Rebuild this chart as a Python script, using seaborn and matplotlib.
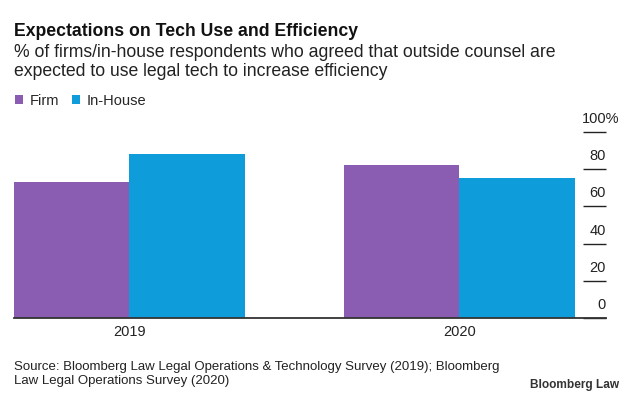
import pandas as pd
import seaborn as sns
from matplotlib import pyplot as plt
from matplotlib.transforms import offset_copy

years = ["2019", "2020"]
firm = [73, 82]
in_house = [88, 75]
groups = ["Firm", "In-House"]
y_ticks = [0, 20, 40, 60, 80, 100]
y_tick_labels = ["0", "20", "40", "60", "80", "100%"]

title = "Expectations on Tech Use and Efficiency"
subtitle = ("% of firms/in-house respondents who agreed that outside counsel are\n"
            "expected to use legal tech to increase efficiency")
source = ("Source: Bloomberg Law Legal Operations & Technology Survey (2019); Bloomberg\n"
          "Law Legal Operations Survey (2020)")

df = pd.DataFrame({
    "Year": years * 2,
    "Share": firm + in_house,
    "Group": [groups[0]] * len(years) + [groups[1]] * len(years),
})

sns.set_theme(style="white")
plt.rcParams["font.family"] = ["Liberation Sans", "DejaVu Sans"]

fig = plt.figure(figsize=(6.33, 3.99), dpi=100)
ax = fig.add_axes([14 / 633, 1 - 318.3 / 399, (606 - 14) / 633, (318.3 - 131.7) / 399])

palette = {"Firm": "#8a5db2", "In-House": "#0f9cda"}
sns.barplot(data=df, x="Year", y="Share", hue="Group", palette=palette,
            width=0.7, linewidth=0, saturation=1, ax=ax)

ax.set_xlim(-0.35, 1.444)
ax.set_ylim(0, 100)
ax.set_xlabel("")
ax.set_ylabel("")

for side in ["top", "right", "left"]:
    ax.spines[side].set_visible(False)
ax.spines["bottom"].set_color("#333333")
ax.spines["bottom"].set_linewidth(1.3)

ax.tick_params(axis="x", length=0, pad=5, labelsize=10.5, labelcolor="#222222")

# short tick marks at the right, labels sit above them
ax.yaxis.tick_right()
ax.set_yticks(y_ticks)
ax.set_yticklabels([])
ax.tick_params(axis="y", direction="in", length=16.8, width=1, color="#222222")
trans = ax.get_yaxis_transform()
for val, lab in zip(y_ticks, y_tick_labels):
    # the % sign hangs past the right edge
    tr = offset_copy(trans, fig=fig, x=13 if lab.endswith("%") else 0, units="dots")
    ax.text(1.0, val + 4.8, lab, transform=tr, ha="right", va="baseline",
            fontsize=10.5, color="#222222")

sns.move_legend(ax, "center left", bbox_to_anchor=(15 / 633, 1 - 101 / 399),
                bbox_transform=fig.transFigure, ncol=2, title=None, frameon=False,
                fontsize=10.5, handlelength=0.55, handleheight=0.55, handletextpad=0.45,
                columnspacing=0.9, borderpad=0, borderaxespad=0)

fig.text(14 / 633, 1 - 31 / 399, title, fontsize=12.7, fontweight="bold",
         va="center", ha="left", color="#111111")
fig.text(14 / 633, 1 - 62 / 399, subtitle, fontsize=12.7, va="center", ha="left",
         color="#222222", linespacing=1.2)
fig.text(14 / 633, 1 - 374 / 399, source, fontsize=9.5, va="center", ha="left",
         color="#222222", linespacing=1.25)
fig.text(619 / 633, 1 - 385 / 399, "Bloomberg Law", fontsize=8.6, fontweight="bold",
         va="center", ha="right", color="#333333")

fig.savefig("out.png", dpi=100)
